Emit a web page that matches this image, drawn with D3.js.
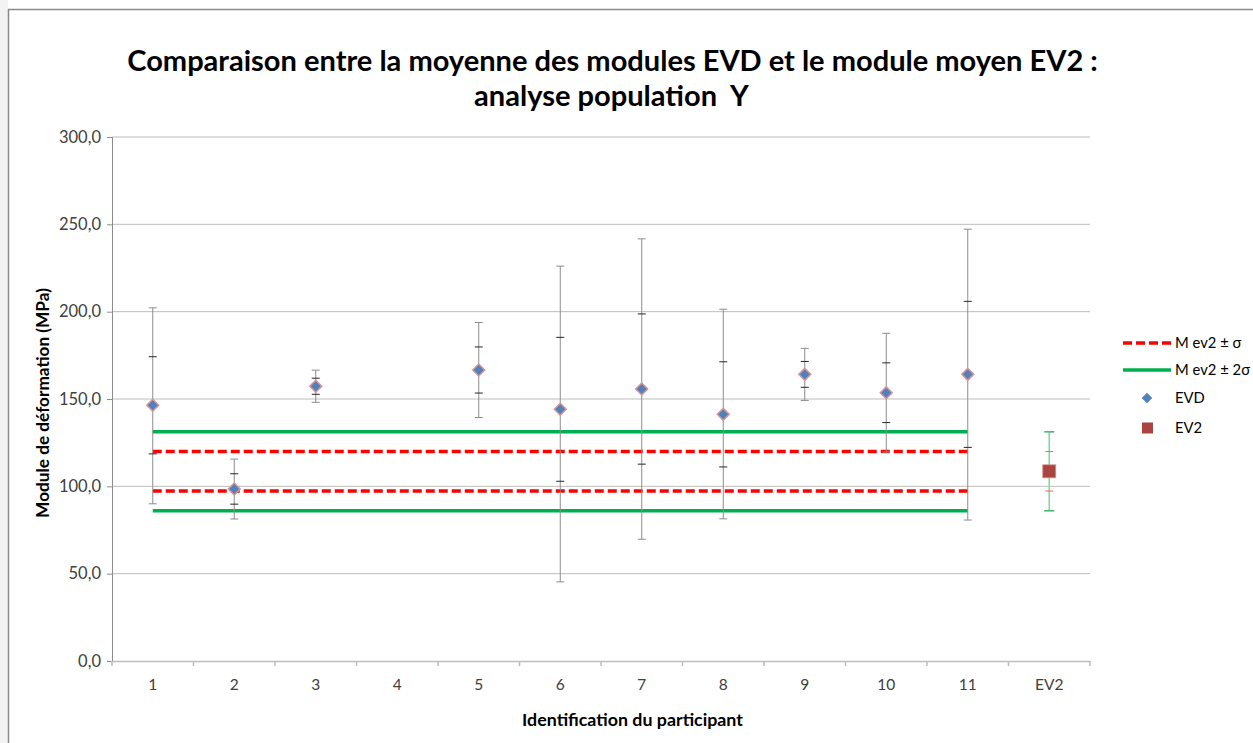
<!DOCTYPE html>
<html>
<head>
<meta charset="utf-8">
<script src="https://cdn.jsdelivr.net/npm/d3@7/dist/d3.min.js"></script>
<style>
  html, body { margin: 0; padding: 0; background: #ffffff; }
  svg { display: block; }
</style>
</head>
<body>
<svg id="chart" width="1253" height="743"></svg>
<script>
// Participants (category axis) and their mean EVD modulus with dispersion
const categories = ["1", "2", "3", "4", "5", "6", "7", "8", "9", "10", "11", "EV2"];
const evdMean   = [146.4, 98.5, 157.3, null, 166.6, 144.1, 155.7, 141.2, 164.1, 153.6, 164.1];
const evdSigma  = [27.8, 8.7, 4.6, null, 13.2, 41.2, 43.0, 30.1, 7.4, 17.1, 41.8];
const evdLow2   = [90.0, 81.3, 148.1, null, 139.4, 45.3, 69.7, 81.4, 149.2, 119.6, 80.7];
const evdHigh2  = [202.2, 115.6, 166.5, null, 193.8, 226.1, 241.7, 201.4, 179.0, 187.6, 247.2];

// Reference EV2 modulus
const ev2Mean  = 108.6;
const ev2Sigma = 11.3;

const yTicks = [0, 50, 100, 150, 200, 250, 300];
const legendLabels = ["M ev2 \u00b1 \u03c3", "M ev2 \u00b1 2\u03c3", "EVD", "EV2"];

const svg = d3.select("#chart");
const font = "Lato, 'Open Sans', sans-serif";

// Outer frame of the chart object
svg.append("rect").attr("x", 0).attr("y", 0).attr("width", 8).attr("height", 743).attr("fill", "#f3f3f3");
svg.append("path")
  .attr("d", "M8.5,743 L8.5,9.5 L1253,9.5")
  .attr("fill", "none").attr("stroke", "#8a8a8a").attr("stroke-width", 1.5);

const plot = { left: 112, right: 1090, top: 137, bottom: 661 };

const x = d3.scaleBand().domain(categories).range([plot.left, plot.right]).paddingInner(0).paddingOuter(0);
const y = d3.scaleLinear().domain([0, 300]).range([plot.bottom, plot.top]);
const cx = c => x(c) + x.bandwidth() / 2;

// Horizontal gridlines
svg.append("g").selectAll("line").data(yTicks.filter(v => v > 0)).join("line")
  .attr("x1", plot.left).attr("x2", plot.right)
  .attr("y1", d => y(d)).attr("y2", d => y(d))
  .attr("stroke", "#bdbdbd").attr("stroke-width", 1);

// Y axis
const yAxis = svg.append("g").attr("transform", `translate(${plot.left},0)`)
  .call(d3.axisLeft(y).tickValues(yTicks).tickSize(5).tickPadding(6)
    .tickFormat(d => d3.format(".1f")(d).replace(".", ",")));
yAxis.select(".domain").attr("stroke", "#8c8c8c");
yAxis.selectAll(".tick line").attr("stroke", "#8c8c8c");
yAxis.selectAll("text").attr("fill", "#404040")
  .style("font-family", font).style("font-size", "16.5px");

// X axis with ticks on band boundaries
const xAxis = svg.append("g").attr("transform", `translate(0,${plot.bottom})`)
  .call(d3.axisBottom(x).tickSize(0).tickPadding(18));
xAxis.select(".domain").attr("stroke", "#bdbdbd").attr("stroke-width", 1.5);
xAxis.selectAll("text").attr("fill", "#404040")
  .style("font-family", font).style("font-size", "15.5px");
const bounds = categories.map(c => x(c)).concat([x(categories[categories.length - 1]) + x.bandwidth()]);
svg.append("g").selectAll("line").data(bounds).join("line")
  .attr("x1", d => d).attr("x2", d => d)
  .attr("y1", plot.bottom).attr("y2", plot.bottom + 5)
  .attr("stroke", "#bdbdbd").attr("stroke-width", 1.5);

// Reference lines across participants 1 to 11
const lineCats = categories.slice(0, 11);
const refLines = [
  { v: ev2Mean + 2 * ev2Sigma, color: "#00b050", dash: null },
  { v: ev2Mean - 2 * ev2Sigma, color: "#00b050", dash: null },
  { v: ev2Mean + ev2Sigma, color: "#ff0000", dash: "9,4" },
  { v: ev2Mean - ev2Sigma, color: "#ff0000", dash: "9,4" }
];
const lineGen = d3.line().x(d => cx(d[0])).y(d => y(d[1]));
refLines.forEach(r => {
  svg.append("path")
    .datum(lineCats.map(c => [c, r.v]))
    .attr("d", lineGen)
    .attr("fill", "none")
    .attr("stroke", r.color)
    .attr("stroke-width", 3.5)
    .attr("stroke-dasharray", r.dash);
});

// EVD error bars (outer: spread, inner ticks: ±σ)
const evd = lineCats.map((c, i) => ({ c, m: evdMean[i], s: evdSigma[i], lo: evdLow2[i], hi: evdHigh2[i] }))
  .filter(d => d.m != null);
const eb = svg.append("g");
evd.forEach(d => {
  const X = cx(d.c);
  eb.append("line").attr("x1", X).attr("x2", X).attr("y1", y(d.hi)).attr("y2", y(d.lo))
    .attr("stroke", "#8c8c8c").attr("stroke-width", 1);
  [d.hi, d.lo].forEach(v => eb.append("line")
    .attr("x1", X - 4).attr("x2", X + 4).attr("y1", y(v)).attr("y2", y(v))
    .attr("stroke", "#8c8c8c").attr("stroke-width", 1));
  [d.m + d.s, d.m - d.s].forEach(v => eb.append("line")
    .attr("x1", X - 4).attr("x2", X + 4).attr("y1", y(v)).attr("y2", y(v))
    .attr("stroke", "#262626").attr("stroke-width", 1));
});

// EV2 error bars
{
  const X = cx("EV2");
  svg.append("line").attr("x1", X).attr("x2", X)
    .attr("y1", y(ev2Mean + 2 * ev2Sigma)).attr("y2", y(ev2Mean - 2 * ev2Sigma))
    .attr("stroke", "#7ad89c").attr("stroke-width", 1.5);
  [ev2Mean + 2 * ev2Sigma, ev2Mean - 2 * ev2Sigma].forEach(v => svg.append("line")
    .attr("x1", X - 5).attr("x2", X + 5).attr("y1", y(v)).attr("y2", y(v))
    .attr("stroke", "#3cb371").attr("stroke-width", 1.5));
  [ev2Mean + ev2Sigma, ev2Mean - ev2Sigma].forEach(v => svg.append("line")
    .attr("x1", X - 4).attr("x2", X + 4).attr("y1", y(v)).attr("y2", y(v))
    .attr("stroke", "#ff6060").attr("stroke-width", 1));
}

// EVD markers (diamonds)
const diamond = d3.symbol().type(d3.symbolSquare).size(72);
svg.append("g").selectAll("path").data(evd).join("path")
  .attr("d", diamond)
  .attr("transform", d => `translate(${cx(d.c)},${y(d.m)}) rotate(45)`)
  .attr("fill", "#4f81bd").attr("stroke", "#d99694").attr("stroke-width", 1.5);

// EV2 marker (square)
svg.append("rect")
  .attr("x", cx("EV2") - 6.5).attr("y", y(ev2Mean) - 6.5)
  .attr("width", 13).attr("height", 13)
  .attr("fill", "#a9443f").attr("stroke", "#d98f8c").attr("stroke-width", 0.8);

// Fit a text element to a given width
function fit(sel, w) {
  const l = sel.node().getComputedTextLength();
  const fs = parseFloat(sel.attr("font-size"));
  sel.attr("font-size", fs * w / l);
}

// Title
const t1 = svg.append("text").attr("x", 612.5).attr("y", 71).attr("text-anchor", "middle")
  .attr("font-family", font).attr("font-weight", "bold").attr("font-size", 26).attr("fill", "#000")
  .text("Comparaison entre la moyenne des modules EVD et le module moyen EV2 :");
fit(t1, 971);
const t2 = svg.append("text").attr("x", 611.5).attr("y", 106).attr("text-anchor", "middle")
  .attr("font-family", font).attr("font-weight", "bold").attr("font-size", 26).attr("fill", "#000")
  .attr("xml:space", "preserve").style("white-space", "pre")
  .text("analyse population  Y");
fit(t2, 275);

// Axis titles
const xt = svg.append("text").attr("x", 632.5).attr("y", 726).attr("text-anchor", "middle")
  .attr("font-family", font).attr("font-weight", "bold").attr("font-size", 15).attr("fill", "#000")
  .text("Identification du participant");
fit(xt, 221);
const yt = svg.append("text").attr("transform", "translate(49,403) rotate(-90)").attr("text-anchor", "middle")
  .attr("font-family", font).attr("font-weight", "bold").attr("font-size", 15).attr("fill", "#000")
  .text("Module de d\u00e9formation (MPa)");
fit(yt, 230);

// Legend
const lg = svg.append("g").attr("fill", "#000");
const rows = [343, 370, 398, 428];
lg.append("line").attr("x1", 1123).attr("x2", 1171).attr("y1", rows[0]).attr("y2", rows[0])
  .attr("stroke", "#ff0000").attr("stroke-width", 3.5).attr("stroke-dasharray", "9,4");
lg.append("line").attr("x1", 1123).attr("x2", 1171).attr("y1", rows[1]).attr("y2", rows[1])
  .attr("stroke", "#00b050").attr("stroke-width", 3.5);
lg.append("path").attr("d", d3.symbol().type(d3.symbolSquare).size(56))
  .attr("transform", `translate(1147,${rows[2]}) rotate(45)`).attr("fill", "#4f81bd");
lg.append("rect").attr("x", 1142).attr("y", rows[3] - 5.5).attr("width", 11).attr("height", 11).attr("fill", "#a9443f");
legendLabels.forEach((l, i) => lg.append("text")
  .attr("x", 1175).attr("y", rows[i]).attr("dy", "0.35em")
  .style("font-family", font).style("font-size", "14.8px")
  .text(l));
</script>
</body>
</html>
